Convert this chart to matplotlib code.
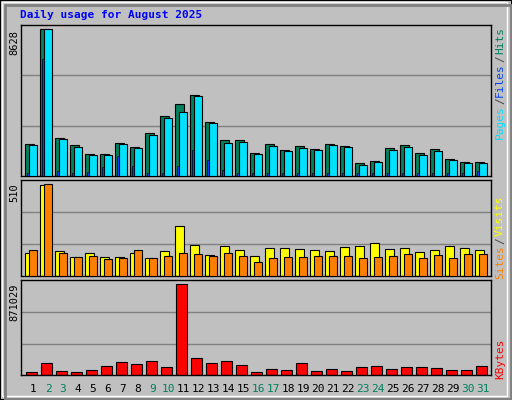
import matplotlib
matplotlib.use("Agg")
import matplotlib.pyplot as plt
from matplotlib.patches import Rectangle
import numpy as np

days = list(range(1, 32))
weekend = [2, 3, 9, 10, 16, 17, 23, 24, 30, 31]
hits = [1863, 8628, 2235, 1804, 1275, 1275, 1922, 1687, 2510, 3510, 4216, 4746, 3157, 2098, 2098, 1333, 1863, 1510, 1745, 1569, 1863, 1745, 745, 863, 1647, 1804, 1333, 1569, 980, 804, 804]
files = [1804, 8628, 2157, 1687, 1216, 1216, 1863, 1628, 2392, 3392, 3745, 4687, 3098, 1922, 1980, 1275, 1745, 1451, 1628, 1510, 1804, 1687, 627, 804, 1510, 1687, 1216, 1451, 922, 745, 745]
pages = [157, 6863, 294, 157, 216, 529, 1157, 588, 157, 157, 588, 1529, 941, 333, 157, 157, 157, 157, 157, 157, 157, 157, 157, 157, 157, 157, 157, 157, 157, 157, 294]
visits = [129, 505, 139, 105, 129, 105, 105, 129, 100, 139, 277, 172, 116, 166, 144, 111, 155, 155, 150, 144, 139, 161, 166, 183, 150, 155, 133, 144, 166, 155, 144]
sites = [144, 510, 129, 105, 111, 94, 100, 144, 100, 111, 129, 122, 111, 129, 111, 77, 100, 105, 105, 111, 111, 111, 100, 105, 111, 122, 100, 116, 100, 122, 122]
kbytes = [28610, 114440, 38150, 28610, 47680, 85830, 123980, 104900, 133510, 76290, 871029, 162120, 114440, 133510, 95370, 28610, 57220, 47680, 114440, 38150, 57220, 38150, 76290, 85830, 57220, 76290, 76290, 66760, 47680, 47680, 85830]

W, H = 512, 400
fig = plt.figure(figsize=(W/100, H/100), dpi=100, facecolor="#C0C0C0")
FONT = "DejaVu Sans Mono"
GREEN = "#00805C"

def px_axes(x0, y0, x1, y1):
    return fig.add_axes([x0/W, 1-y1/H, (x1-x0)/W, (y1-y0)/H])

fig.patches.append(Rectangle((0, 0), 1, 1, transform=fig.transFigure, fill=False, ec="black", lw=1.5))
fig.patches.append(Rectangle((1.5/W, 4/H), (W-7)/W, (H-6)/H, transform=fig.transFigure, fill=False, ec="white", lw=1))
fig.patches.append(Rectangle((5/W, 1.5/H), (W-6.5)/W, (H-6)/H, transform=fig.transFigure, fill=False, ec="#808080", lw=2))

L, R = 20.7, 490.7
idx = np.arange(31)

def setup(ax, ymax, frac):
    ax.set_facecolor("#C0C0C0")
    ax.set_xlim(0, R-L)
    top = ymax/frac
    ax.set_ylim(0, top)
    for g in (top/3, 2*top/3):
        ax.axhline(g, color="#808080", lw=1, zorder=0)
    ax.set_xticks([]); ax.set_yticks([])
    for s in ax.spines.values():
        s.set_color("black"); s.set_linewidth(1)
    ax.text(-0.013, 0.97, f"{ymax}", transform=ax.transAxes, rotation=90, ha="center", va="top",
            fontsize=7.5, family=FONT, color="black")

ax1 = px_axes(L, 25, R, 176)
setup(ax1, 8628, 146.7/151)
ax1.bar(4.6+15*idx, hits, width=8.3, align="edge", color="#00805C", ec="black", lw=0.8, zorder=2)
ax1.bar(8.6+15*idx, files, width=7.4, align="edge", color="#00E0FF", ec="black", lw=0.8, zorder=3)
ax1.bar(6.0+15*idx, pages, width=2.7, align="edge", color="#0040FF", ec="black", lw=0.5, zorder=4)

ax2 = px_axes(L, 180, R, 276.3)
setup(ax2, 510, 92/96.3)
ax2.bar(4.6+15*idx, visits, width=8.3, align="edge", color="#FFFF00", ec="black", lw=0.8, zorder=2)
ax2.bar(8.6+15*idx, sites, width=7.4, align="edge", color="#FF8000", ec="black", lw=0.8, zorder=3)

ax3 = px_axes(L, 280.3, R, 375.3)
setup(ax3, 871029, 91.3/95)
ax3.bar(5.3+15*idx, kbytes, width=10.7, align="edge", color="#FF0000", ec="black", lw=0.8, zorder=2)

for i, d in zip(idx, days):
    fig.text((L+12.3+15*i)/W, 1-389/H, str(d), ha="center", va="center", fontsize=8, family=FONT,
             color=GREEN if d in weekend else "black")

fig.text(20/W, 1-15/H, "Daily usage for August 2025", ha="left", va="center", fontsize=8,
         family=FONT, weight="bold", color="#0000FF")

def vtext(y_center, s, c):
    fig.text(500/W, 1-y_center/H, s, rotation=90, ha="center", va="center", fontsize=8,
             family=FONT, color=c)

vtext(122, "Pages", "#00E0FF"); vtext(101, "/", "#404040"); vtext(80, "Files", "#0040FF")
vtext(59, "/", "#404040"); vtext(40, "Hits", GREEN)
vtext(262, "Sites", "#FF8000"); vtext(241, "/", "#404040"); vtext(216, "Visits", "#FFFF00")
vtext(359, "KBytes", "#FF0000")

fig.savefig("out.png", dpi=100, facecolor=fig.get_facecolor())
